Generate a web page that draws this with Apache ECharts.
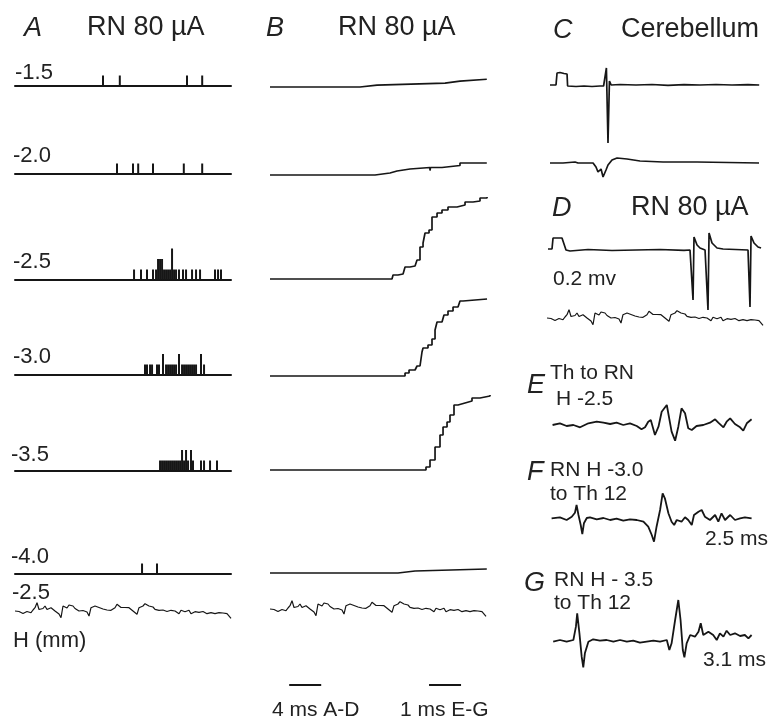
<!DOCTYPE html>
<html><head><meta charset="utf-8">
<script src="https://cdn.jsdelivr.net/npm/echarts/dist/echarts.min.js"></script>
<style>html,body{margin:0;padding:0;background:#fff}#c{width:769px;height:719px}</style>
</head><body><div id="c"></div>
<script>
// ---------- DATA ----------
// Row labels (H depth, mm)
const depthLabels = ['-1.5','-2.0','-2.5','-3.0','-3.5','-4.0','-2.5'];

// Panel A: spike histograms, [time ms, count]
const spikesA15 = [[11.0,1],[13.1,1],[21.5,1],[23.4,1]];
const spikesA20 = [[12.75,1],[14.75,1],[15.4,1],[17.25,1],[21.1,1],[23.4,1]];
const spikesA25 = [[14.88,1],[15.75,1],[16.5,1],[17.25,1],[17.63,1],[17.88,2],[18.13,2],[18.38,2],[18.63,1],[18.88,1],[19.13,1],[19.38,1],[19.63,3],[19.88,1],[20.13,1],[20.5,1],[21.0,1],[21.38,1],[22.13,1],[22.63,1],[23.13,1],[25.0,1],[25.38,1],[25.75,1]];
const spikesA30 = [[16.25,1],[16.5,1],[16.88,1],[17.13,1],[17.75,1],[18.0,1],[18.5,2],[18.88,1],[19.13,1],[19.38,1],[19.63,1],[19.88,1],[20.13,1],[20.5,2],[20.88,1],[21.13,1],[21.38,1],[21.63,1],[21.88,1],[22.13,1],[22.38,1],[22.63,1],[23.25,2],[23.63,1]];
const spikesA35 = [[18.13,1],[18.38,1],[18.63,1],[18.88,1],[19.13,1],[19.38,1],[19.63,1],[19.88,1],[20.13,1],[20.38,1],[20.63,1],[20.88,2],[21.13,1],[21.38,2],[21.63,1],[22.0,2],[22.25,1],[23.25,1],[23.63,1],[24.38,1],[25.25,1]];
const spikesA40 = [[15.88,1],[17.75,1]];

// Panel B: cumulative traces, [time ms, level]
const cumB15 = [[0,0],[11.25,2],[13.38,4],[21.88,6],[23.75,8],[27.1,8]];
const cumB20 = [[0,0],[13.13,2],[15.0,4],[15.88,6],[17.5,7.5],[19.99,7.5],[20.0,4.5],[20.06,7.5],[21.5,9.5],[23.75,12],[27.1,12]];
const cumB25 = [[0,0],[15.25,0],[15.38,4],[16.0,5],[16.63,7],[16.88,12],[17.5,13],[18.13,14],[18.38,19],[18.75,32],[19.13,36],[19.38,46],[19.88,49],[20.25,62],[20.88,66],[21.5,69],[22.25,72],[23.38,74],[24.38,77],[25.38,78],[26.25,81],[27.13,82]];
const cumB30 = [[0,0],[16.5,0],[16.88,3],[17.38,6],[18.13,7],[18.38,10],[18.75,11],[19.0,24],[19.13,28],[19.75,31],[20.25,37],[20.63,46],[20.88,54],[21.5,56],[21.75,61],[22.25,65],[22.88,69],[23.5,70],[23.75,75],[24.13,77],[27.13,77]];
const cumB35 = [[0,0],[19.13,0],[19.5,3],[20.0,10],[20.63,23],[21.25,35],[21.63,43],[22.13,48],[22.5,55],[23.0,65],[23.5,67],[24.38,69],[25.25,72],[26.25,74],[27.5,75]];
const cumB40 = [[0,0],[16.0,2],[18.13,4],[27.1,4]];

// Background noise recording (0.25 ms samples)
const noiseDt = 0.25;
const noiseTrace = [0,-1.5,-0.5,-1.0,-2.5,-2.7,-0.5,-1.5,-1.7,1.0,3.3,8.3,1.5,3.5,2.5,5.0,1.5,2.0,3.3,1.5,0,-1.0,-3.0,-6.7,5.0,6.7,3.0,6.0,4.0,5.0,2.5,1.7,0,-0.5,0.5,-1.5,-1.0,-5.0,3.3,4.0,5.0,3.0,3.5,4.0,2.0,2.7,1.0,1.7,0.7,2.0,3.3,6.7,5.0,3.5,2.7,3.5,4.0,3.3,1.5,0,-1.5,-3.3,3.3,2.5,5.0,7.3,8.3,5.0,3.3,4.0,1.7,2.0,0.7,0,1.0,1.3,-0.5,-1.7,0.7,-0.5,0,-1.5,-2.7,0.7,0,-0.7,-1.5,0.7,-2.7,-1.0,-0.7,-2.0,-1.3,-2.0,-0.5,-0.7,-2.7,-1.5,-1.7,-2.5,-2.7,-1.2,-1.7,-3.3,-2.0,-0.7,-2.7,-2.0,-7.3];

// Panel C: cerebellum, [time ms, amplitude]
const cerebTop = [[0.25,0],[1.0,0],[1.13,12],[1.5,12.5],[2.0,11.5],[2.38,11],[2.45,-1],[3.5,-1.5],[4.5,-1],[5.5,-1.5],[6.5,-1],[6.95,-1],[7.13,-3],[7.3,17],[7.5,-58],[7.68,4],[7.9,0],[9,0.5],[11,0],[13,0.5],[15,-0.3],[17,0.4],[19,0],[21,0.5],[23,0],[25,0.4],[26.4,0]];
const cerebBottom = [[0.25,0],[1.88,0],[3.38,1],[3.63,3],[3.75,0],[5.63,0],[6.0,-4],[6.25,-9],[6.5,-11],[6.63,-6],[6.88,-14],[7.0,-14],[7.25,-7],[7.5,-2],[8.0,3],[8.63,5],[9.88,4],[11.5,2],[14.38,1],[18.63,1],[22.5,0.5],[26.38,0]];

// Panel D: RN 80 uA
const rnTop = [[0,1],[0.5,1],[0.63,12],[1.75,12],[1.88,11],[2.25,0],[2.75,-1],[5,0.5],[8,-0.5],[11,0],[14,0.5],[17,-0.3],[17.75,0],[18.0,-2],[18.13,-50],[18.25,13],[18.63,5],[19.0,2],[19.63,0],[19.88,-2],[20.0,-60],[20.13,17],[20.5,7],[21.13,2],[21.88,1],[25.0,0],[25.13,-2],[25.25,-57],[25.38,14],[25.75,7],[26.25,3],[26.63,2]];

// Panels E, F, G: [time ms, amplitude]
const traceE = [[0.08,0],[0.31,1.7],[0.52,-1],[0.73,0],[0.94,-2.3],[1.2,1.7],[1.46,3.3],[1.67,2.3],[1.88,1],[2.08,2.3],[2.29,0],[2.5,1.7],[2.71,-1],[2.86,-4.3],[2.97,-2.3],[3.07,3.3],[3.15,5],[3.28,-10],[3.39,-1.7],[3.49,13.3],[3.65,20],[3.8,-6.7],[3.91,-15.7],[4.01,-1.7],[4.11,16.7],[4.22,11.7],[4.32,-3.3],[4.43,-5],[4.58,-1],[4.79,0],[5.0,2.3],[5.16,5.7],[5.26,2.3],[5.42,-2.3],[5.52,3.3],[5.63,6.7],[5.78,1],[5.94,-2.3],[6.04,-5.7],[6.15,1.7],[6.3,5.7]];
const traceF = [[0.05,-0.3],[0.31,0.7],[0.52,-2],[0.68,1.3],[0.78,5.3],[0.83,13],[0.89,3],[0.96,-7],[1.01,-16],[1.06,-5.3],[1.15,0],[1.25,0.7],[1.46,-1.3],[1.67,0],[1.88,-2],[2.08,-0.7],[2.29,-2.7],[2.5,-1.3],[2.71,-2],[2.92,-3.7],[3.07,-8.7],[3.18,-17],[3.25,-23.7],[3.33,-8.7],[3.44,8],[3.52,24.7],[3.59,19.7],[3.7,4.7],[3.8,-3.7],[3.88,-7],[3.96,-2],[4.11,-3.7],[4.22,0.7],[4.32,-2],[4.43,-7],[4.5,3],[4.64,6.3],[4.74,8],[4.84,1.3],[5.0,-2],[5.16,3],[5.26,-3.7],[5.36,4.7],[5.47,-2],[5.63,3],[5.78,-2],[5.94,-0.3],[6.09,0.7],[6.3,-0.3]];
const traceG = [[0.1,-0.7],[0.31,1],[0.52,-0.7],[0.73,1],[0.81,14.3],[0.85,27.7],[0.92,7.7],[0.99,-15.7],[1.04,-26.3],[1.09,-12.3],[1.2,-0.7],[1.35,1.7],[1.56,0.3],[1.77,1],[1.98,-0.7],[2.19,1],[2.4,-0.7],[2.6,0.3],[2.81,-1.7],[3.02,-0.7],[3.23,0.3],[3.44,-0.7],[3.65,1],[3.73,-9],[3.8,-2.3],[3.91,21],[4.01,41],[4.08,21],[4.15,-9],[4.2,-16.3],[4.27,-2.3],[4.38,6],[4.53,4.3],[4.64,9.3],[4.71,17.7],[4.79,6],[4.95,9.3],[5.1,6],[5.21,1],[5.31,7.7],[5.42,4.3],[5.52,10.3],[5.63,6],[5.78,7.7],[5.94,5],[6.09,6],[6.2,2.7],[6.3,6]];

// Scale bars [start ms, end ms]
const scaleAD = [2.4, 6.4];   // 4 ms (A-D)
const scaleEG = [4.97, 5.97]; // 1 ms (E-G)

// ---------- CHART ----------
const INK = '#161616';
const FONT = '"Liberation Sans", Arial, Helvetica, sans-serif';
const grids = [], xAxis = [], yAxis = [], series = [];

function panel(box, xr, yr, baseLine) {
  const i = grids.length;
  grids.push({left: box.left, top: box.top, width: box.width, height: box.height, containLabel: false});
  xAxis.push({type: 'value', gridIndex: i, min: xr[0], max: xr[1], show: !!baseLine,
    axisLine: {show: !!baseLine, onZero: false, lineStyle: {color: INK, width: 2}},
    axisTick: {show: false}, axisLabel: {show: false}, splitLine: {show: false}});
  yAxis.push({type: 'value', gridIndex: i, min: yr[0], max: yr[1], show: false, splitLine: {show: false}});
  return i;
}
function line(i, data, w, step) {
  const s = {type: 'line', xAxisIndex: i, yAxisIndex: i, data: data, symbol: 'none', showSymbol: false,
    silent: true, animation: false, clip: false, lineStyle: {color: INK, width: w}};
  if (step) s.step = step;
  series.push(s);
}
function centered(left, width, cy, half, xmax) {
  return panel({left: left, top: cy - half, width: width, height: 2 * half}, [0, xmax], [-half, half], false);
}
const noiseData = noiseTrace.map((v, k) => [k * noiseDt, v]);

// A rows
const rowsA = [spikesA15, spikesA20, spikesA25, spikesA30, spikesA35, spikesA40];
const baseA = [86, 174, 280, 375, 471, 574];
rowsA.forEach((d, r) => {
  const i = panel({left: 15, top: baseA[r] - 42, width: 216, height: 42}, [0, 27], [0, 4], true);
  series.push({type: 'bar', xAxisIndex: i, yAxisIndex: i, data: d, barWidth: 2, silent: true,
    animation: false, itemStyle: {color: INK}});
});
line(centered(15, 216, 611, 30, 27), noiseData, 1.2);

// B rows
const rowsB = [cumB15, cumB20, cumB25, cumB30, cumB35, cumB40];
const baseB = [87, 175, 279, 376, 470, 573];
rowsB.forEach((d, r) => {
  const i = panel({left: 270, top: baseB[r] - 90, width: 220, height: 90}, [0, 27.5], [0, 90], false);
  line(i, d, 1.7, 'end');
});
line(centered(270, 216, 609, 30, 27), noiseData, 1.2);

// C
line(centered(548, 216, 85, 70, 27), cerebTop, 1.7);
line(centered(548, 216, 163, 30, 27), cerebBottom, 1.7);
// D
line(centered(548, 216, 250, 70, 27), rnTop, 1.7);
line(centered(547, 216, 318, 30, 27), noiseData, 1.2);
// E F G
line(centered(550, 208, 425, 50, 6.5), traceE, 1.8);
line(centered(550, 208, 518, 50, 6.5), traceF, 1.8);
line(centered(550, 208, 641, 50, 6.5), traceG, 1.8);
// scale bars
line(centered(270, 220, 685, 10, 27.5), [[scaleAD[0], 0], [scaleAD[1], 0]], 1.8);
line(centered(270, 220, 685, 10, 6.875), [[scaleEG[0], 0], [scaleEG[1], 0]], 1.8);

// texts
function txt(t, x, y, size, italic) {
  return {type: 'text', x: x, y: y, silent: true,
    style: {text: t, fill: '#222', fontSize: size, fontFamily: FONT, fontStyle: italic ? 'italic' : 'normal',
      textVerticalAlign: 'middle', verticalAlign: 'middle'}};
}
const labelY = [73, 156, 262, 357, 455, 557, 593];
const labelX = [15, 13, 13, 13, 11, 11, 12];
const graphics = [
  txt('A', 24, 28, 27, true), txt('RN 80 µA', 87, 28, 27),
  txt('B', 266, 28, 27, true), txt('RN 80 µA', 338, 28, 27),
  txt('C', 553, 30, 27, true), txt('Cerebellum', 621, 30, 27),
  txt('D', 552, 208, 27, true), txt('RN 80 µA', 631, 208, 27),
  txt('H (mm)', 13, 641, 22),
  txt('0.2 mv', 553, 279, 21),
  txt('E', 527, 385, 27, true), txt('Th to RN', 550, 373, 21), txt('H -2.5', 556, 399, 21),
  txt('F', 527, 472, 27, true), txt('RN H -3.0', 550, 470, 21), txt('to Th 12', 550, 494, 21),
  txt('2.5 ms', 705, 539, 21),
  txt('G', 524, 583, 27, true), txt('RN H - 3.5', 554, 580, 21), txt('to Th 12', 554, 603, 21),
  txt('3.1 ms', 703, 660, 21),
  txt('4 ms A-D', 272, 710, 21), txt('1 ms E-G', 400, 710, 21)
];
depthLabels.forEach((l, k) => graphics.push(txt(l, labelX[k], labelY[k], 22)));

const chart = echarts.init(document.getElementById('c'), null, {renderer: 'canvas'});
chart.setOption({animation: false, backgroundColor: '#fff', grid: grids, xAxis: xAxis, yAxis: yAxis,
  series: series, graphic: graphics});
</script></body></html>
